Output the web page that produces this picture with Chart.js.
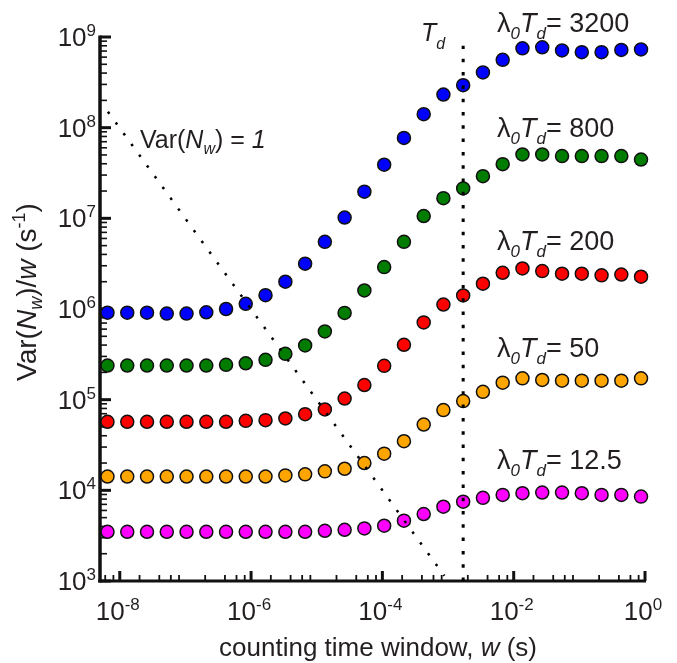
<!DOCTYPE html>
<html><head><meta charset="utf-8">
<script src="https://cdn.jsdelivr.net/npm/chart.js@4.4.1/dist/chart.umd.min.js"></script>
<style>html,body{margin:0;padding:0;background:#fff}#wrap{width:677px;height:663px}</style>
</head><body><div id="wrap"><canvas id="c" width="677" height="663"></canvas></div>
<script>
// counting time windows w (s)
const windows = [6.5e-9, 1.3e-8, 2.6e-8, 5.2e-8, 1.04e-7, 2.08e-7, 4.16e-7, 8.3e-7, 1.66e-6, 3.33e-6, 6.66e-6, 1.33e-5, 2.66e-5, 5.32e-5, 1.065e-4, 2.13e-4, 4.26e-4, 8.5e-4, 1.7e-3, 3.4e-3, 6.8e-3, 1.36e-2, 2.72e-2, 5.45e-2, 0.109, 0.218, 0.436, 0.87];
// Var(N_w)/w (s^-1) for each lambda0*Td
const rate3200 = [9.1e5, 9.1e5, 9.1e5, 8.9e5, 8.9e5, 9.2e5, 1.0e6, 1.14e6, 1.42e6, 2.0e6, 3.16e6, 5.5e6, 1.02e7, 1.97e7, 3.9e7, 7.7e7, 1.41e8, 2.32e8, 2.94e8, 4.07e8, 5.6e8, 7.5e8, 7.7e8, 7.1e8, 6.8e8, 6.8e8, 7.2e8, 7.3e8];
const rate800 = [2.38e5, 2.38e5, 2.38e5, 2.38e5, 2.38e5, 2.38e5, 2.42e5, 2.52e5, 2.75e5, 3.2e5, 3.96e5, 5.66e5, 9.06e5, 1.6e6, 2.9e6, 5.5e6, 1.06e7, 1.67e7, 2.14e7, 2.92e7, 3.96e7, 5.06e7, 5.06e7, 4.86e7, 4.86e7, 4.86e7, 4.86e7, 4.45e7];
const rate200 = [5.7e4, 5.7e4, 5.7e4, 5.7e4, 5.7e4, 5.7e4, 5.7e4, 5.84e4, 5.94e4, 6.2e4, 6.92e4, 7.8e4, 1.03e5, 1.45e5, 2.36e5, 4.03e5, 7.12e5, 1.12e6, 1.41e6, 1.9e6, 2.51e6, 2.8e6, 2.62e6, 2.45e6, 2.45e6, 2.35e6, 2.4e6, 2.27e6];
const rate50 = [1.42e4, 1.42e4, 1.42e4, 1.42e4, 1.42e4, 1.42e4, 1.42e4, 1.42e4, 1.42e4, 1.46e4, 1.5e4, 1.62e4, 1.73e4, 2.0e4, 2.54e4, 3.48e4, 5.32e4, 7.67e4, 9.65e4, 1.22e5, 1.54e5, 1.72e5, 1.65e5, 1.62e5, 1.62e5, 1.62e5, 1.62e5, 1.72e5];
const rate12_5 = [3.49e3, 3.49e3, 3.49e3, 3.49e3, 3.49e3, 3.49e3, 3.49e3, 3.49e3, 3.49e3, 3.49e3, 3.49e3, 3.58e3, 3.67e3, 3.8e3, 4.07e3, 4.63e3, 5.48e3, 6.6e3, 7.5e3, 8.26e3, 8.9e3, 9.29e3, 9.46e3, 9.46e3, 9.29e3, 8.9e3, 8.9e3, 8.53e3];
const seriesLabels = ['3200', '800', '200', '50', '12.5'];
const seriesColors = ['#0000ff', '#007d00', '#ff0000', '#ffa500', '#ff00ff'];
// Var(N_w) = 1 reference line
const unitVarWindows = [6.6e-9, 8.8e-4];
const unitVarRates = [1.5e8, 1.14e3];
// dead time Td marker
const tdWindows = [1.7e-3, 1.7e-3];
const tdRates = [1e3, 8e8];
// axis ticks
const xMajorExp = [-8, -6, -4, -2, 0];
const xMinorMult = [2, 4, 6, 8];
const yMajorExp = [3, 4, 5, 6, 7, 8, 9];
const yMinorMult = [2, 3, 4, 5, 6, 7, 8, 9];
const xMin = 5e-9, xMax = 1, yMin = 1e3, yMax = 1e9;

const FONT = '"Liberation Sans", Arial, Helvetica, sans-serif';
const TXT = '#231f20';
function rich(ctx, parts, x, y, align) {
  let w = 0;
  for (const p of parts) {
    ctx.font = (p[2] ? 'italic ' : '') + p[1] + 'px ' + FONT;
    p.w = ctx.measureText(p[0]).width; w += p.w;
  }
  let cx = align === 'right' ? x - w : align === 'center' ? x - w / 2 : x;
  for (const p of parts) {
    ctx.font = (p[2] ? 'italic ' : '') + p[1] + 'px ' + FONT;
    ctx.fillText(p[0], cx, y + (p[3] || 0));
    cx += p.w;
  }
}

const axesPlugin = {
  id: 'axesPlugin',
  beforeDatasetsDraw(chart) {
    const { ctx, chartArea: a, scales: { x, y } } = chart;
    ctx.save();
    ctx.strokeStyle = '#111';
    ctx.lineWidth = 3.5;
    ctx.beginPath(); ctx.moveTo(a.left, a.top - 1.5); ctx.lineTo(a.left, a.bottom + 1.5); ctx.stroke();
    ctx.lineWidth = 3;
    ctx.beginPath(); ctx.moveTo(a.left - 1.75, a.bottom); ctx.lineTo(a.right + 1, a.bottom); ctx.stroke();
    // y ticks (inward)
    for (const e of yMajorExp) {
      const py = y.getPixelForValue(Math.pow(10, e));
      ctx.lineWidth = 3;
      ctx.beginPath(); ctx.moveTo(a.left, py); ctx.lineTo(a.left + 11, py); ctx.stroke();
      if (e < 9) {
        ctx.lineWidth = 1.6;
        for (const m of yMinorMult) {
          const pm = y.getPixelForValue(m * Math.pow(10, e));
          ctx.beginPath(); ctx.moveTo(a.left, pm); ctx.lineTo(a.left + 7, pm); ctx.stroke();
        }
      }
    }
    // x ticks (inward)
    for (const e of xMajorExp) {
      const px = x.getPixelForValue(Math.pow(10, e));
      ctx.lineWidth = 3;
      ctx.beginPath(); ctx.moveTo(px, a.bottom); ctx.lineTo(px, a.bottom - 10); ctx.stroke();
    }
    ctx.lineWidth = 1.8;
    for (let e = -9; e <= -1; e++) {
      for (const m of xMinorMult) {
        const v = m * Math.pow(10, e);
        if (v < xMin || v > xMax) continue;
        const px = x.getPixelForValue(v);
        ctx.beginPath(); ctx.moveTo(px, a.bottom); ctx.lineTo(px, a.bottom - 6); ctx.stroke();
      }
    }
    ctx.restore();
  },
  afterDraw(chart) {
    const { ctx, chartArea: a, scales: { x, y } } = chart;
    ctx.save();
    ctx.fillStyle = TXT;
    ctx.textBaseline = 'alphabetic';
    // y tick labels
    for (const e of yMajorExp) {
      const py = y.getPixelForValue(Math.pow(10, e));
      rich(ctx, [['10', 26], [String(e), 17, false, -10]], a.left - 4, py + 9, 'right');
    }
    // x tick labels
    for (const e of xMajorExp) {
      const px = x.getPixelForValue(Math.pow(10, e));
      rich(ctx, [['10', 26], [String(e), 17, false, -10]], px - 2, a.bottom + 39, 'center');
    }
    // axis titles
    rich(ctx, [['counting time window, ', 26], ['w', 26, true], [' (s)', 26]], 378, 656, 'center');
    ctx.save();
    ctx.translate(36, 292);
    ctx.rotate(-Math.PI / 2);
    rich(ctx, [['Var(', 28], ['N', 28, true], ['w', 18, true, 6], [')/', 28], ['w', 28, true], [' (s', 28], ['-1', 18, false, -11], [')', 28]], 0, 0, 'center');
    ctx.restore();
    // annotations
    rich(ctx, [['T', 25, true], ['d', 16, true, 8]], 421, 41, 'left');
    rich(ctx, [['Var(', 25], ['N', 25, true], ['w', 16, true, 6], [') = ', 25], ['1', 25, true]], 140, 148, 'left');
    const baselines = [32, 137, 249.5, 357, 468.5];
    seriesLabels.forEach((lab, i) => {
      rich(ctx, [['\u03bb', 27], ['0', 17, true, 7], ['T', 27, true], ['d', 17, true, 7], ['= ' + lab, 27]], 497, baselines[i], 'left');
    });
    ctx.restore();
  }
};

const pts = (xs, ys) => xs.map((v, i) => ({ x: v, y: ys[i] }));
const rates = [rate3200, rate800, rate200, rate50, rate12_5];
const datasets = [
  { data: pts(unitVarWindows, unitVarRates), showLine: true, pointRadius: 0, borderColor: '#000', borderWidth: 2.5, borderDash: [2.5, 10.8], fill: false, clip: false, order: 0 },
  { data: pts(tdWindows, tdRates), showLine: true, pointRadius: 0, borderColor: '#000', borderWidth: 3, borderDash: [3.5, 9.8], fill: false, clip: false, order: 0 }
];
rates.forEach((r, i) => datasets.push({
  label: seriesLabels[i], data: pts(windows, r), showLine: false,
  pointRadius: 6.5, pointBorderWidth: 1.5, pointBackgroundColor: seriesColors[i], pointBorderColor: '#111',
  clip: false, order: 1 + i
}));

new Chart(document.getElementById('c'), {
  type: 'scatter',
  data: { datasets },
  options: {
    responsive: false, animation: false, devicePixelRatio: 1,
    layout: { padding: { left: 100, right: 32, top: 37, bottom: 82 } },
    plugins: { legend: { display: false }, tooltip: { enabled: false } },
    scales: {
      x: { type: 'logarithmic', min: xMin, max: xMax, display: false },
      y: { type: 'logarithmic', min: yMin, max: yMax, display: false }
    }
  },
  plugins: [axesPlugin]
});
</script></body></html>
